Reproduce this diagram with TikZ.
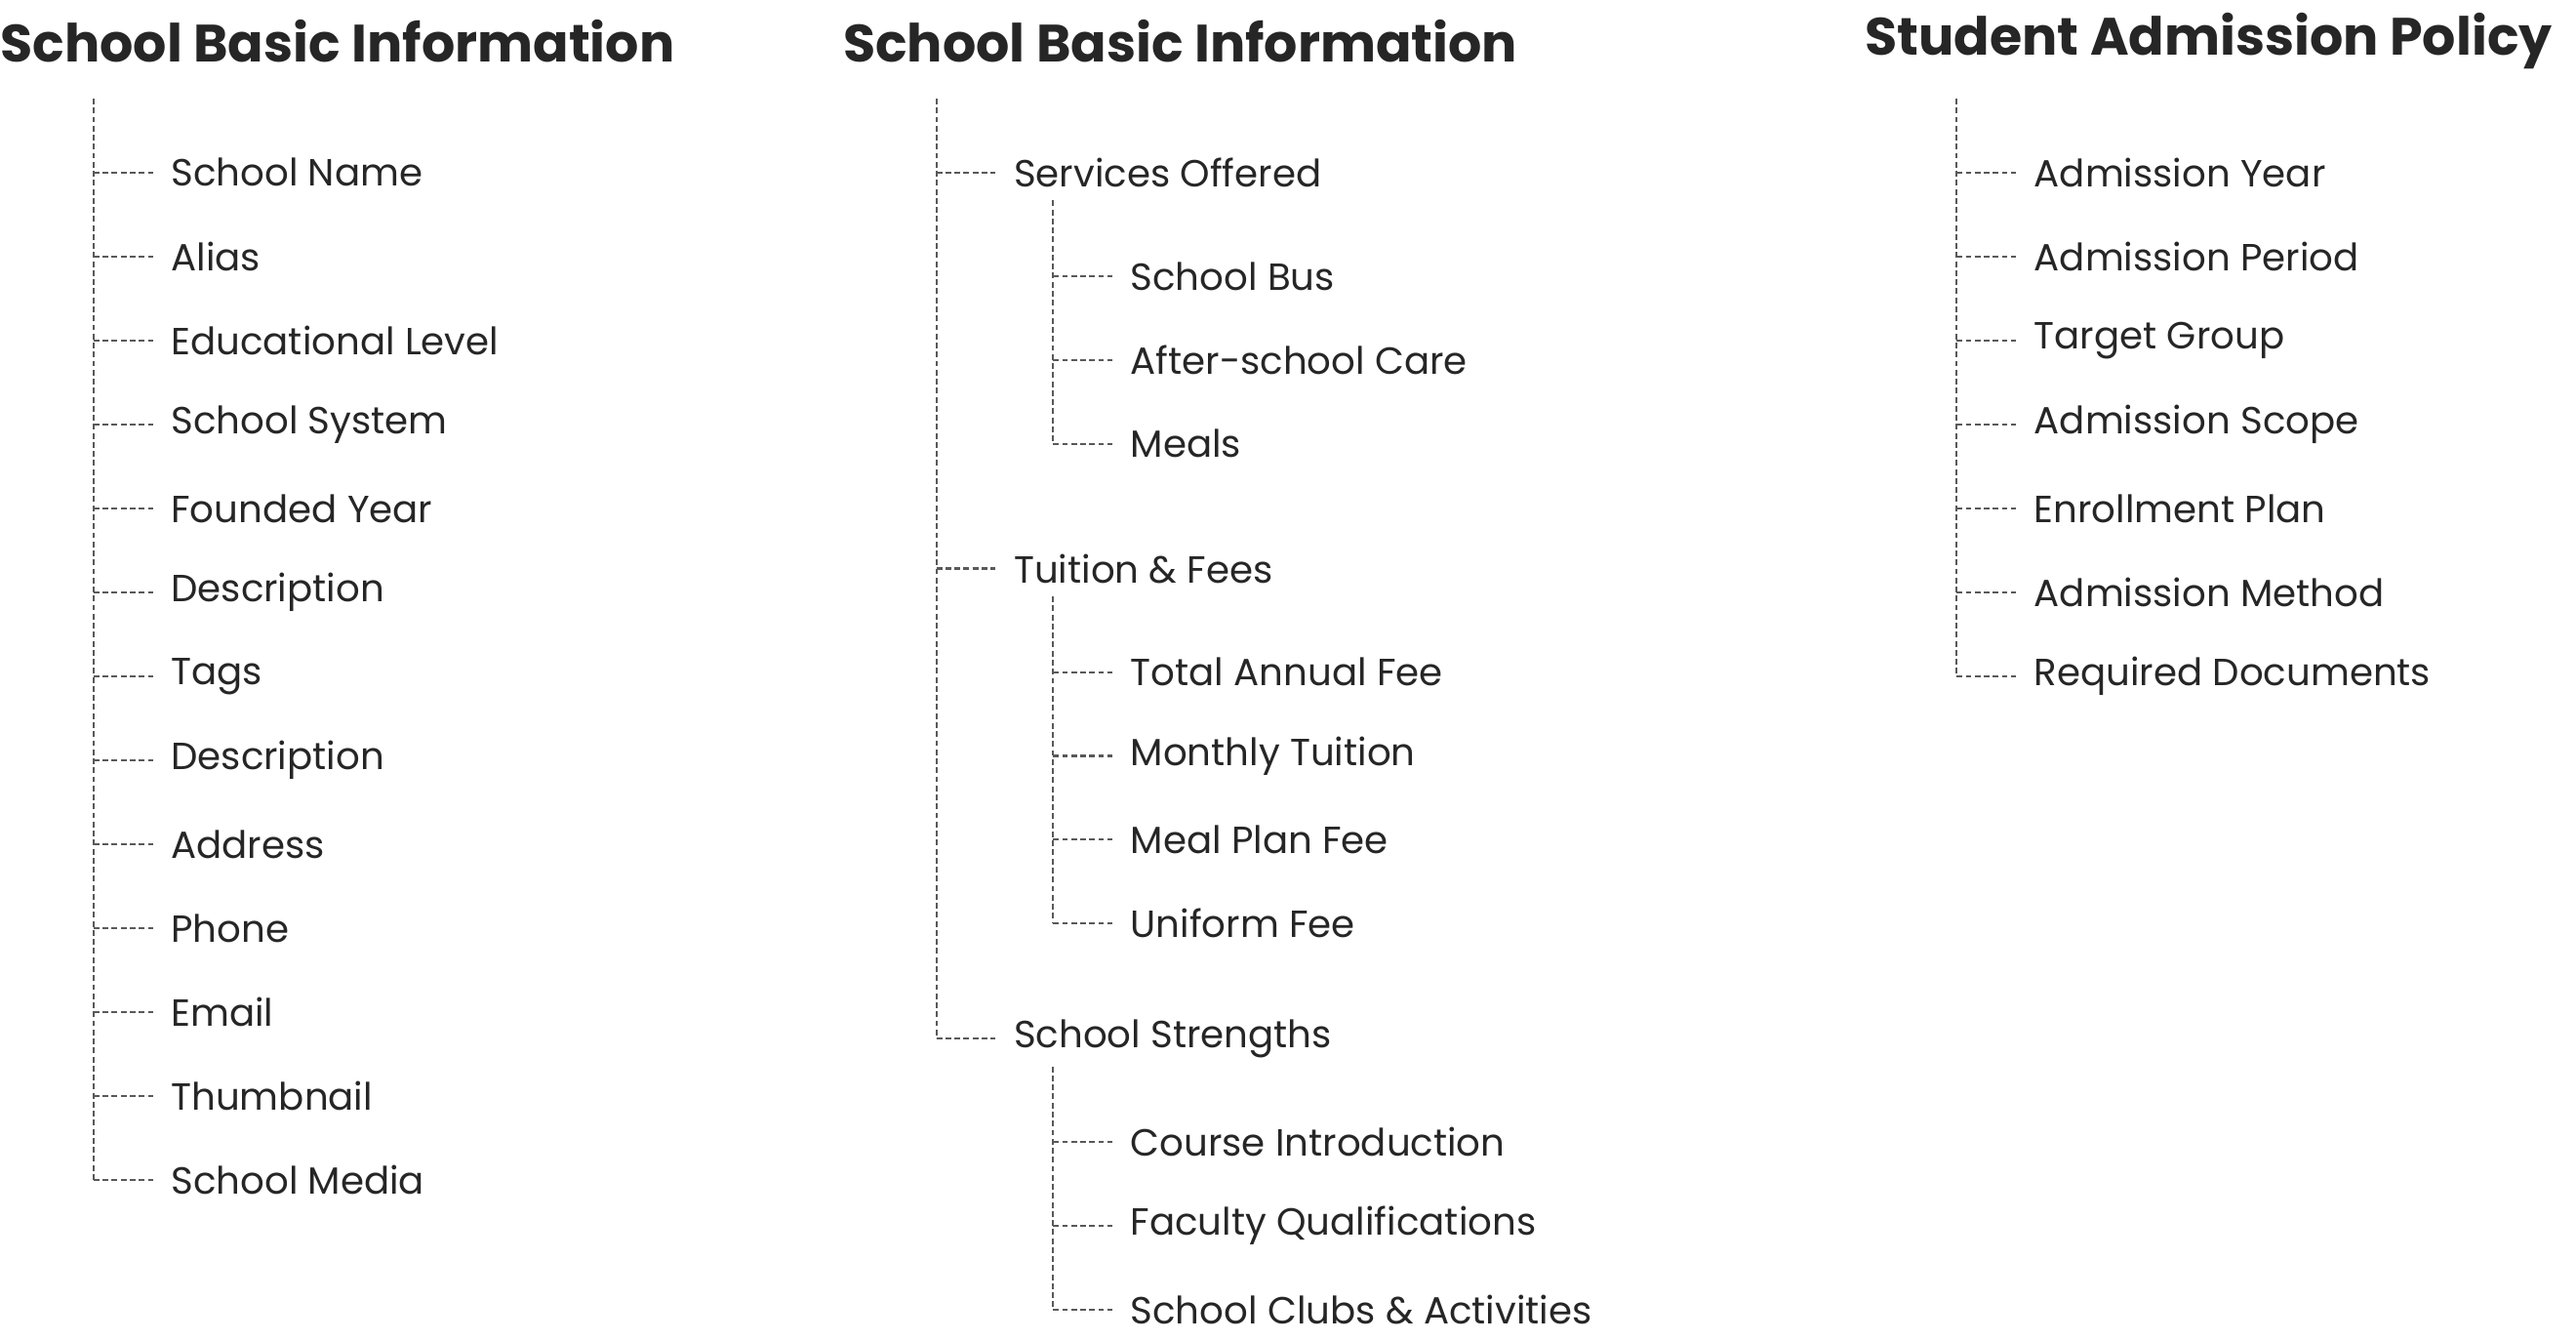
\documentclass[tikz,border=0pt]{standalone}
\usepackage{fontspec}
\setmainfont{Poppins}
\begin{document}
\begin{tikzpicture}[x=1pt,y=-1pt,
 ttl/.style={anchor=west,inner sep=0,font=\fontsize{32}{36}\selectfont\bfseries,text=black!85},
 itm/.style={anchor=west,inner sep=0,font=\fontsize{23}{26}\selectfont,text=black!85},
 ln/.style={draw=black!65,line width=1.3pt,dash pattern=on 3.5pt off 2pt}]
\useasboundingbox (0,0) rectangle (1568,816);
% column 1
\node[ttl] (t1) at (0,25) {School Basic Information};
\coordinate (a0) at (57,60);
\foreach \t [count=\i] in {School Name,Alias,Educational Level,School System,Founded Year,Description,Tags,Description,Address,Phone,Email,Thumbnail,School Media}{
 \node[itm] (a\i) at (104,{105+51.1*(\i-1)}) {\t};
 \coordinate (ac\i) at (57,{105+51.1*(\i-1)});
 \draw[ln] (ac\i) -- ++(36,0);
}
\draw[ln] (a0) -- (ac13);
% column 2
\node[ttl] (t2) at (513,25) {School Basic Information};
\coordinate (b0) at (570,60);
\node[itm] (s1) at (617,105) {Services Offered};
\node[itm] (s2) at (617,346) {Tuition \& Fees};
\node[itm] (s3) at (617,632) {School Strengths};
\foreach \n/\y in {s1/105,s2/346,s3/632}{\coordinate (c\n) at (570,\y); \draw[ln] (c\n) -- ++(36,0);}
\draw[ln] (b0) -- (cs3);
\foreach \top/\lst in {122/{168/School Bus,219/After-school Care,270/Meals},363/{409/Total Annual Fee,460/Monthly Tuition,511/Meal Plan Fee,562/Uniform Fee},649/{695/Course Introduction,746/Faculty Qualifications,797/School Clubs \& Activities}}{
 \coordinate (st) at (641,\top);
 \foreach \y/\t in \lst {
  \node[itm] (u) at (688,\y) {\t};
  \coordinate (uc) at (641,\y);
  \draw[ln] (uc) -- ++(36,0);
 }
 \draw[ln] (st) -- (uc);
}
% column 3
\node[ttl] (t3) at (1135,25) {Student Admission Policy};
\coordinate (d0) at (1191,60);
\foreach \t [count=\i] in {Admission Year,Admission Period,Target Group,Admission Scope,Enrollment Plan,Admission Method,Required Documents}{
 \node[itm] (d\i) at (1238,{105+51.1*(\i-1)}) {\t};
 \coordinate (dc\i) at (1191,{105+51.1*(\i-1)});
 \draw[ln] (dc\i) -- ++(36,0);
}
\draw[ln] (d0) -- (dc7);
\end{tikzpicture}
\end{document}
